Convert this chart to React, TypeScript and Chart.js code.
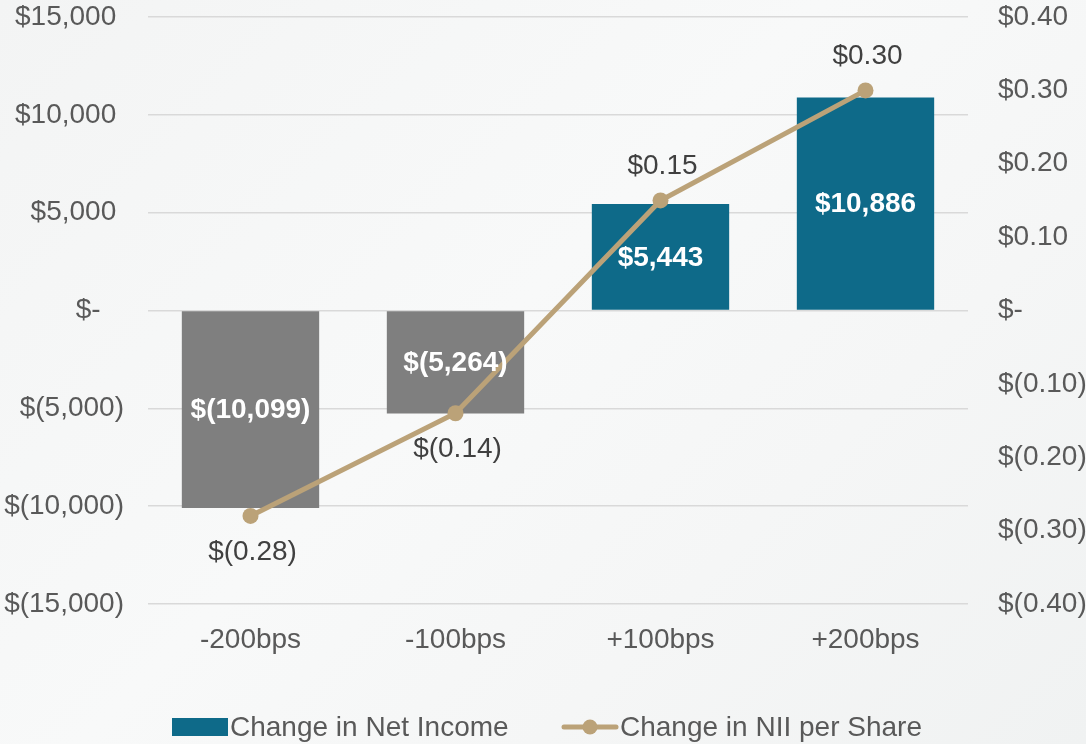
import React, { useEffect, useRef } from "react";
import { Chart, registerables } from "chart.js";

Chart.register(...registerables);

const categories = ["-200bps", "-100bps", "+100bps", "+200bps"];
const netIncomeChange = [-10099, -5264, 5443, 10886];
const niiPerShareChange = [-0.28, -0.14, 0.15, 0.3];
const leftAxisRange = [-15000, 15000, 5000];
const rightAxisRange = [-0.4, 0.4, 0.1];
const legendLabels = ["Change in Net Income", "Change in NII per Share"];

const BAR_POS = "#0e6a89";
const BAR_NEG = "#7f7f7f";
const LINE = "#bba278";
const TICK = "#595959";
const FONT = "'Liberation Sans', Arial, sans-serif";
const FS = 28;

function fmtThousands(v: number): string {
  if (Math.abs(v) < 1e-9) return "$-";
  const s = Math.abs(Math.round(v)).toLocaleString("en-US");
  return v < 0 ? `$(${s})` : `$${s}`;
}
// accounting-style alignment for the left axis: parentheses hang to the right
function fmtThousandsAxis(v: number): string {
  if (Math.abs(v) < 1e-9) return "$-   ";
  return v < 0 ? fmtThousands(v) : fmtThousands(v) + " ";
}
function fmtCents(v: number): string {
  if (Math.abs(v) < 1e-9) return "$-";
  const s = Math.abs(v).toFixed(2);
  return v < 0 ? `$(${s})` : `$${s}`;
}

const labelsPlugin = {
  id: "customLabels",
  afterDatasetsDraw(chart: any) {
    const ctx = chart.ctx;
    ctx.save();
    ctx.textAlign = "center";
    ctx.textBaseline = "middle";
    const barMeta = chart.getDatasetMeta(0);
    ctx.font = `bold ${FS}px ${FONT}`;
    ctx.fillStyle = "#ffffff";
    barMeta.data.forEach((el: any, i: number) => {
      const y = (el.y + el.base) / 2;
      ctx.fillText(fmtThousands(netIncomeChange[i]), el.x, y + 1);
    });
    const lineMeta = chart.getDatasetMeta(1);
    ctx.font = `${FS}px ${FONT}`;
    ctx.fillStyle = "#404040";
    lineMeta.data.forEach((el: any, i: number) => {
      const v = niiPerShareChange[i];
      const y = v < 0 ? el.y + 36 : el.y - 34;
      ctx.fillText(fmtCents(v), el.x + 2, y);
    });
    ctx.restore();
  },
  afterDraw(chart: any) {
    const ctx = chart.ctx;
    ctx.save();
    const cy = 727;
    ctx.fillStyle = BAR_POS;
    ctx.fillRect(172, cy - 9, 56, 18);
    ctx.font = `${FS}px ${FONT}`;
    ctx.fillStyle = TICK;
    ctx.textAlign = "left";
    ctx.textBaseline = "middle";
    ctx.fillText(legendLabels[0], 230, cy + 1);
    ctx.strokeStyle = LINE;
    ctx.lineWidth = 5;
    ctx.lineCap = "round";
    ctx.beginPath();
    ctx.moveTo(564, cy);
    ctx.lineTo(616, cy);
    ctx.stroke();
    ctx.fillStyle = LINE;
    ctx.beginPath();
    ctx.arc(590, cy, 7.5, 0, Math.PI * 2);
    ctx.fill();
    ctx.fillStyle = TICK;
    ctx.fillText(legendLabels[1], 620, cy + 1);
    ctx.restore();
  },
};

export default function App() {
  const ref = useRef<HTMLCanvasElement | null>(null);
  useEffect(() => {
    if (!ref.current) return;
    const chart = new Chart(ref.current, {
      data: {
        labels: categories,
        datasets: [
          {
            type: "bar",
            label: legendLabels[0],
            data: netIncomeChange,
            backgroundColor: netIncomeChange.map((v) => (v < 0 ? BAR_NEG : BAR_POS)),
            yAxisID: "y",
            barPercentage: 0.67,
            categoryPercentage: 1,
            order: 2,
          },
          {
            type: "line",
            label: legendLabels[1],
            data: niiPerShareChange,
            borderColor: LINE,
            backgroundColor: LINE,
            borderWidth: 5,
            pointRadius: 8,
            pointBackgroundColor: LINE,
            pointBorderWidth: 0,
            yAxisID: "y1",
            order: 1,
            tension: 0,
          },
        ],
      } as any,
      options: {
        animation: false,
        responsive: false,
        layout: { padding: 0 },
        plugins: { legend: { display: false }, tooltip: { enabled: false } },
        scales: {
          x: {
            offset: true,
            grid: { display: false, drawTicks: false },
            border: { display: false },
            ticks: { color: TICK, font: { family: FONT, size: FS }, padding: 19 },
            afterFit: (s: any) => {
              s.height = 140;
            },
          },
          y: {
            position: "left",
            min: leftAxisRange[0],
            max: leftAxisRange[1],
            grid: { color: "#d9d9d9", lineWidth: 1.5, drawTicks: false },
            border: { display: false },
            ticks: {
              stepSize: leftAxisRange[2],
              color: TICK,
              font: { family: FONT, size: FS },
              padding: 24,
              callback: (v: any) => fmtThousandsAxis(Number(v)),
            },
            afterFit: (s: any) => {
              s.width = 148;
              s.paddingTop = 17;
              s.paddingBottom = 0;
            },
          },
          y1: {
            position: "right",
            min: rightAxisRange[0],
            max: rightAxisRange[1],
            grid: { display: false, drawTicks: false },
            border: { display: false },
            ticks: {
              stepSize: rightAxisRange[2],
              color: TICK,
              font: { family: FONT, size: FS },
              padding: 30,
              callback: (v: any) => fmtCents(Number(v)),
            },
            afterFit: (s: any) => {
              s.width = 118;
              s.paddingTop = 17;
              s.paddingBottom = 0;
            },
          },
        },
      } as any,
      plugins: [labelsPlugin],
    });
    return () => chart.destroy();
  }, []);
  return (
    <div
      style={{
        position: "fixed",
        left: 0,
        top: 0,
        width: 1086,
        height: 744,
        background: "linear-gradient(135deg, #f3f4f4 0%, #f8f9f9 45%, #f5f6f6 70%, #f0f2f2 100%)",
      }}
    >
      <canvas ref={ref} width={1086} height={744} style={{ display: "block" }} />
    </div>
  );
}
